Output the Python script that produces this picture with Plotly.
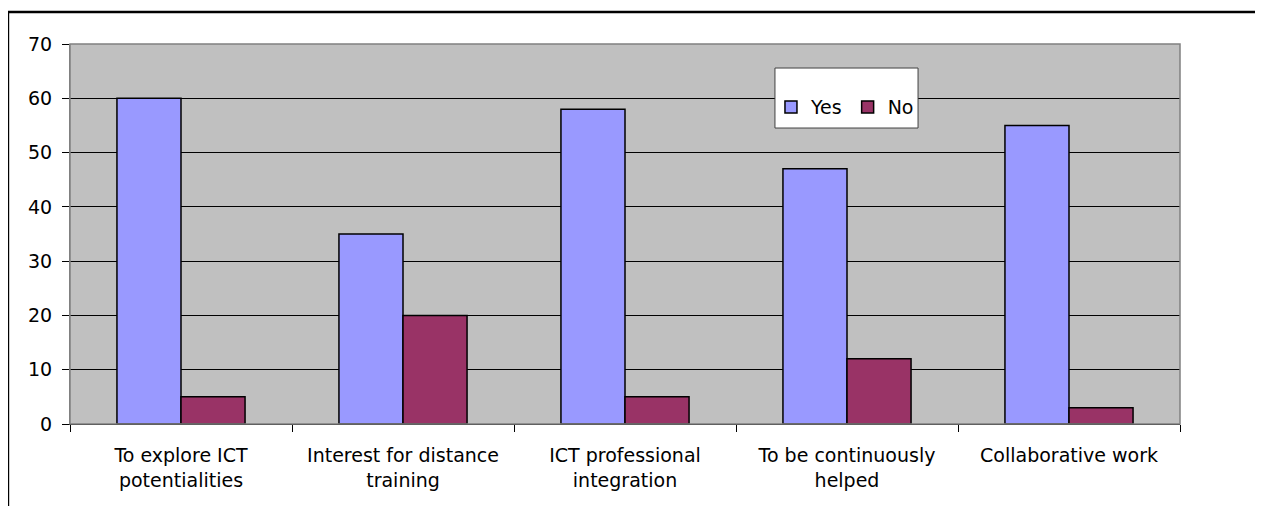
import plotly.graph_objects as go

categories = ["To explore ICT<br>potentialities", "Interest for distance<br>training",
              "ICT professional<br>integration", "To be continuously<br>helped",
              "Collaborative work"]
yes_values = [60, 35, 58, 47, 55]
no_values = [5, 20, 5, 12, 3]
y_ticks = [0, 10, 20, 30, 40, 50, 60, 70]

FONT = "DejaVu Sans"
FS = 19

fig = go.Figure()
fig.add_trace(go.Bar(name="Yes", x=categories, y=yes_values,
                     marker=dict(color="#9999FF", line=dict(color="black", width=1.5))))
fig.add_trace(go.Bar(name="No", x=categories, y=no_values,
                     marker=dict(color="#993366", line=dict(color="black", width=1.5))))

fig.update_layout(
    width=1263, height=506,
    margin=dict(l=62, r=91, t=36, b=90),
    paper_bgcolor="white",
    plot_bgcolor="#C0C0C0",
    barmode="group", bargap=0.423, bargroupgap=0,
    font=dict(family=FONT, size=FS, color="black"),
    showlegend=True,
    legend=dict(orientation="h", x=0.6315, y=0.834, xanchor="left", yanchor="middle",
                bgcolor="rgba(0,0,0,0)", borderwidth=0,
                font=dict(family=FONT, size=FS, color="black")),
    xaxis=dict(showgrid=False, showline=True, linecolor="black", linewidth=1,
               ticks="outside", tickson="boundaries", ticklen=7, tickcolor="black",
               ticklabelstandoff=14,
               tickfont=dict(family=FONT, size=FS, color="black")),
    yaxis=dict(range=[0, 70], tickvals=y_ticks, showgrid=True, gridcolor="black",
               gridwidth=1, zeroline=False, showline=True, linecolor="#808080",
               linewidth=1, ticks="outside", ticklen=7, tickcolor="black",
               ticklabelstandoff=6,
               tickfont=dict(family=FONT, size=FS, color="black")),
)

# plot-area border (top/right)
fig.add_shape(type="rect", xref="paper", yref="paper", x0=0, x1=1, y0=0, y1=1,
              line=dict(color="#808080", width=1.5), layer="above")
# legend box
fig.add_shape(type="rect", xref="paper", yref="paper", x0=0.6351, x1=0.764,
              y0=0.7789, y1=0.9368, fillcolor="white",
              line=dict(color="#404040", width=1), layer="above")
# outer chart border
fig.add_shape(type="rect", xref="paper", yref="paper", x0=-0.0559, x1=1.2,
              y0=-0.27, y1=1.0842, line=dict(color="black", width=2.5), layer="above")

fig.write_html("out.html")
